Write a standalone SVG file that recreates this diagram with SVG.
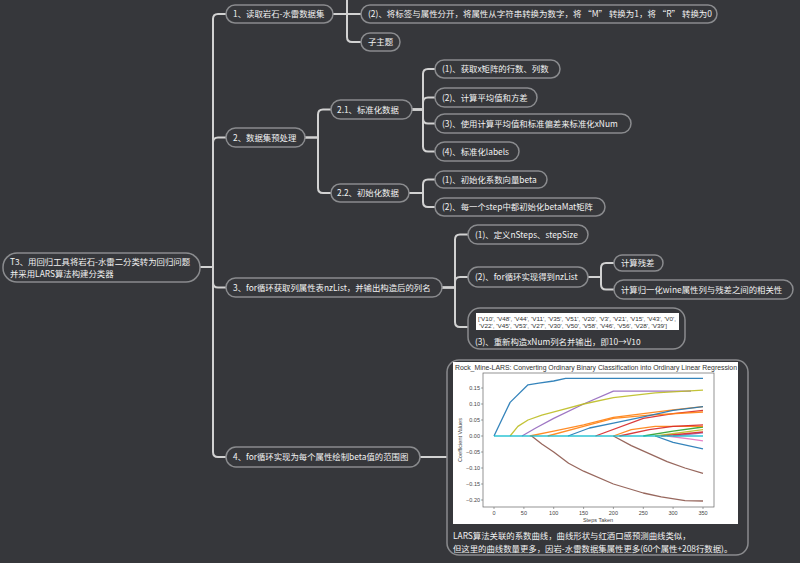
<svg xmlns="http://www.w3.org/2000/svg" width="800" height="563" viewBox="0 0 800 563">
<style>
.n rect{fill:#36373b;stroke:#8a8b8e;stroke-width:1.5}
.t{fill:#f2f2f2;font-family:"Noto Sans CJK SC","Noto Sans",sans-serif;font-size:8.4px}
.c{fill:none;stroke:#d2d2d2;stroke-width:2}
.ax{font-family:"Liberation Sans",Arial,sans-serif;font-size:5.5px;fill:#444}
.cv{fill:none;stroke-width:1.3;stroke-linejoin:round;stroke-opacity:0.9}
</style>
<rect width="800" height="563" fill="#36373b"/>
<g id="connectors" class="c">
<path d="M200,267 H213 V19 Q213,14 218,14 H226"/>
<path d="M200,267 H213 V142.5 Q213,137.5 218,137.5 H226"/>
<path d="M200,267 H213 V282.5 Q213,287.5 218,287.5 H226"/>
<path d="M200,267 H213 V452 Q213,457 218,457 H226"/>
<path d="M333,14 H347 V-5"/>
<path d="M333,14 H361"/>
<path d="M333,14 H347 V37 Q347,42 352,42 H361"/>
<path d="M305,137.5 H318 V114.5 Q318,109.5 323,109.5 H331"/>
<path d="M305,137.5 H318 V188 Q318,193 323,193 H331"/>
<path d="M412,109.5 H423 V74 Q423,69 428,69 H435"/>
<path d="M412,109.5 H423 V102.5 Q423,97.5 428,97.5 H435"/>
<path d="M412,109.5 H423 V118.5 Q423,123.5 428,123.5 H435"/>
<path d="M412,109.5 H423 V146.5 Q423,151.5 428,151.5 H435"/>
<path d="M409,193 H423 V184.5 Q423,179.5 428,179.5 H435"/>
<path d="M409,193 H423 V202 Q423,207 428,207 H435"/>
<path d="M442,287.5 H455 V239.5 Q455,234.5 460,234.5 H468"/>
<path d="M442,287.5 H455 V282 Q455,277 460,277 H468"/>
<path d="M442,287.5 H455 V322 Q455,327 460,327 H468"/>
<path d="M588,277 H601 V268 Q601,263 606,263 H614"/>
<path d="M588,277 H601 V284.5 Q601,289.5 606,289.5 H614"/>
<path d="M420,457 H447"/>
</g>
<g id="root" class="n"><rect x="3" y="253" width="197" height="29" rx="14"/>
<text class="t" x="10" y="265">T3、用回归工具将岩石-水雷二分类转为回归问题</text>
<text class="t" x="10" y="277">并采用LARS算法构建分类器</text></g>
<g id="n1" class="n"><rect x="226" y="5" width="107" height="18" rx="9"/><text class="t" x="233" y="17">1、读取岩石-水雷数据集</text></g>
<g id="n2" class="n"><rect x="226" y="128" width="79" height="19" rx="9.5"/><text class="t" x="233" y="140.5">2、数据集预处理</text></g>
<g id="n3" class="n"><rect x="226" y="278" width="216" height="19" rx="9.5"/><text class="t" x="233" y="290.5">3、for循环获取列属性表nzList，并输出构造后的列名</text></g>
<g id="n4" class="n"><rect x="226" y="447" width="194" height="20" rx="10"/><text class="t" x="233" y="460">4、for循环实现为每个属性绘制beta值的范围图</text></g>
<g id="n1-2" class="n"><rect x="361" y="5" width="356" height="18" rx="9"/><text class="t" x="368" y="17" textLength="344" lengthAdjust="spacingAndGlyphs">(2)、将标签与属性分开，将属性从字符串转换为数字，将 “M” 转换为1，将 “R” 转换为0</text></g>
<g id="n1-3" class="n"><rect x="361" y="33" width="39" height="18" rx="9"/><text class="t" x="368" y="45">子主题</text></g>
<g id="n2-1" class="n"><rect x="331" y="100" width="81" height="19" rx="9.5"/><text class="t" x="337" y="112.5">2.1、标准化数据</text></g>
<g id="n2-2" class="n"><rect x="331" y="184" width="78" height="18" rx="9"/><text class="t" x="337" y="196">2.2、初始化数据</text></g>
<g id="n2-1-1" class="n"><rect x="435" y="60" width="125" height="18" rx="9"/><text class="t" x="442" y="72">(1)、获取x矩阵的行数、列数</text></g>
<g id="n2-1-2" class="n"><rect x="435" y="88" width="102" height="19" rx="9.5"/><text class="t" x="442" y="100.5">(2)、计算平均值和方差</text></g>
<g id="n2-1-3" class="n"><rect x="435" y="114" width="196" height="19" rx="9.5"/><text class="t" x="442" y="126.5">(3)、使用计算平均值和标准偏差来标准化xNum</text></g>
<g id="n2-1-4" class="n"><rect x="435" y="142" width="84" height="19" rx="9.5"/><text class="t" x="442" y="154.5">(4)、标准化labels</text></g>
<g id="n2-2-1" class="n"><rect x="435" y="171" width="112" height="17" rx="8.5"/><text class="t" x="442" y="182.5">(1)、初始化系数向量beta</text></g>
<g id="n2-2-2" class="n"><rect x="435" y="198" width="170" height="18" rx="9"/><text class="t" x="442" y="210">(2)、每一个step中都初始化betaMat矩阵</text></g>
<g id="n3-1" class="n"><rect x="468" y="225" width="120" height="19" rx="9.5"/><text class="t" x="475" y="237.5">(1)、定义nSteps、stepSize</text></g>
<g id="n3-2" class="n"><rect x="468" y="267" width="120" height="20" rx="10"/><text class="t" x="475" y="280">(2)、for循环实现得到nzList</text></g>
<g id="n3-2-1" class="n"><rect x="614" y="255" width="49" height="16" rx="8"/><text class="t" x="621" y="266">计算残差</text></g>
<g id="n3-2-2" class="n"><rect x="614" y="280" width="179" height="19" rx="9.5"/><text class="t" x="621" y="292.5">计算归一化wine属性列与残差之间的相关性</text></g>
<g id="n3-3" class="n"><rect x="468" y="308" width="217" height="41" rx="12"/>
<rect x="476" y="313" width="203" height="17" style="fill:#ffffff;stroke:none"/>
<text x="478" y="320.5" font-family="Liberation Sans, Arial, sans-serif" font-size="5.6" fill="#333" textLength="198" lengthAdjust="spacingAndGlyphs">['V10', 'V48', 'V44', 'V11', 'V35', 'V51', 'V20', 'V3', 'V21', 'V15', 'V43', 'V0',</text>
<text x="479" y="327.5" font-family="Liberation Sans, Arial, sans-serif" font-size="5.6" fill="#333" textLength="188" lengthAdjust="spacingAndGlyphs">'V22', 'V45', 'V53', 'V27', 'V30', 'V50', 'V58', 'V46', 'V56', 'V28', 'V39']</text>
<text class="t" x="475" y="344.5">(3)、重新构造xNum列名并输出，即10→V10</text></g>
<g id="n4-1" class="n"><rect x="447" y="360" width="301" height="195" rx="12"/>
<rect x="453" y="362" width="285" height="162" style="fill:#ffffff;stroke:none"/>
<text x="455" y="369.5" font-family="Liberation Sans, Arial, sans-serif" font-size="6.5" fill="#333" textLength="282" lengthAdjust="spacingAndGlyphs">Rock_Mine-LARS: Converting Ordinary Binary Classification into Ordinary Linear Regression</text>
<rect x="483" y="373" width="231" height="134" style="fill:none;stroke:#666;stroke-width:0.7"/>
<g stroke="#666" stroke-width="0.6">
<path d="M481,388H483M481,404H483M481,420H483M481,436H483M481,452H483M481,468H483M481,484H483M481,500H483"/>
<path d="M494,507V509M523.9,507V509M553.7,507V509M583.6,507V509M613.4,507V509M643.3,507V509M673.1,507V509M703,507V509"/>
</g>
<g class="ax" text-anchor="end">
<text x="480" y="390">0.15</text><text x="480" y="406">0.10</text><text x="480" y="422">0.05</text><text x="480" y="438">0.00</text>
<text x="480" y="454">−0.05</text><text x="480" y="470">−0.10</text><text x="480" y="486">−0.15</text><text x="480" y="502">−0.20</text>
</g>
<g class="ax" text-anchor="middle">
<text x="494" y="514.5">0</text><text x="523.9" y="514.5">50</text><text x="553.7" y="514.5">100</text><text x="583.6" y="514.5">150</text>
<text x="613.4" y="514.5">200</text><text x="643.3" y="514.5">250</text><text x="673.1" y="514.5">300</text><text x="703" y="514.5">350</text>
<text x="598" y="521.5">Steps Taken</text>
<text x="0" y="0" transform="translate(462,440) rotate(-90)">Coefficient Values</text>
</g>
<polyline class="cv" stroke="#e377c2" points="667.1,436 691,439.2 703,440.8"/>
<polyline class="cv" stroke="#1f77b4" points="655.2,436 673.1,442.4 703,448.8"/>
<polyline class="cv" stroke="#2ca02c" points="643.3,436 673.1,431.2 703,427"/>
<polyline class="cv" stroke="#bcbd22" points="655.2,436 703,429.6"/>
<polyline class="cv" stroke="#9467bd" points="673.1,436 703,432.8"/>
<polyline class="cv" stroke="#d62728" points="661.2,436 703,432"/>
<polyline class="cv" stroke="#ff7f0e" points="613.4,436 631.3,429.6 655.2,426.4 703,426.4"/>
<polyline class="cv" stroke="#d62728" points="619.4,436 649.2,429.6 673.1,426.4 703,424.8"/>
<polyline class="cv" stroke="#d62728" points="595.5,436 643.3,418.4 673.1,413.6 703,410.4"/>
<polyline class="cv" stroke="#ff7f0e" points="547.7,436 583.6,426.4 613.4,418.4 649.2,415.2 703,412"/>
<polyline class="cv" stroke="#ff7f0e" points="529.8,436 553.7,431.2 583.6,424.8 613.4,417.4 643.3,413.6 673.1,409.8 703,406.6"/>
<polyline class="cv" stroke="#1f77b4" points="568,436 589.5,428 613.4,423.2 643.3,416.8 673.1,410.4 703,406.6"/>
<polyline class="cv" stroke="#8c564b" points="613.4,436 631.3,445.6 649.2,453.6 667.1,461.6 685,468 703,473.4"/>
<polyline class="cv" stroke="#8c564b" points="531.6,436 541.8,444 553.7,452 568.6,463.2 583.6,471.2 613.4,484 643.3,493 661.2,496.8 685,500.6 703,501"/>
<polyline class="cv" stroke="#9467bd" points="522,436 535.8,428 553.7,418.4 583.6,404 613.4,391.2 691,391.2"/>
<polyline class="cv" stroke="#bcbd22" points="510.1,436 517.9,426.4 528,420 541.8,415.2 559.7,410.4 583.6,404 613.4,397.6 655.2,392.8 703,390.2"/>
<polyline class="cv" stroke="#1f77b4" points="494,436 510.1,402.4 528,384.8 538.8,383.2 553.7,381 565.6,378.4 703,378.4"/>
<polyline class="cv" stroke="#17becf" stroke-width="2" points="494,436 703,436"/>
<text class="t" x="453" y="539">LARS算法关联的系数曲线，曲线形状与红酒口感预测曲线类似，</text>
<text class="t" x="453" y="552">但这里的曲线数量更多，因岩-水雷数据集属性更多(60个属性+208行数据)。</text>
</g>
</svg>
